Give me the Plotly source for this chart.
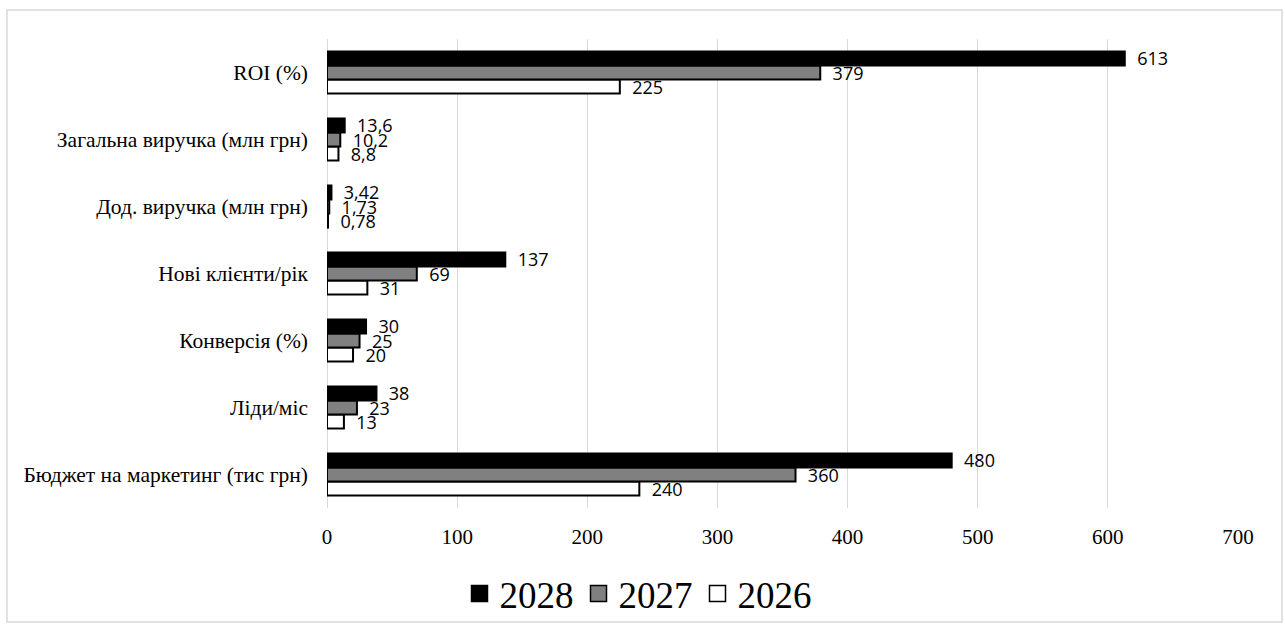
import plotly.graph_objects as go

categories = [
    "Бюджет на маркетинг (тис грн)",
    "Ліди/міс",
    "Конверсія (%)",
    "Нові клієнти/рік",
    "Дод. виручка (млн грн)",
    "Загальна виручка (млн грн)",
    "ROI (%)",
]
years = ["2026", "2027", "2028"]
v2026 = [240, 13, 20, 31, 0.78, 8.8, 225]
v2027 = [360, 23, 25, 69, 1.73, 10.2, 379]
v2028 = [480, 38, 30, 137, 3.42, 13.6, 613]
x_ticks = [0, 100, 200, 300, 400, 500, 600, 700]

series = {"2026": v2026, "2027": v2027, "2028": v2028}
fills = {"2026": "#ffffff", "2027": "#808080", "2028": "#000000"}

SERIF = "Liberation Serif, Times New Roman, serif"
SANS = "Open Sans, Liberation Sans, sans-serif"

def fmt(v):
    return "\u00a0\u00a0" + str(v).replace(".", ",")

fig = go.Figure()
for yr in years:
    vals = series[yr]
    fig.add_trace(go.Bar(
        y=categories, x=vals, orientation="h", name=yr,
        marker=dict(color=fills[yr], line=dict(color="#000000", width=2)),
        text=[fmt(v) for v in vals], textposition="outside",
        textfont=dict(family=SANS, size=18, color="#000000"),
        constraintext="none", cliponaxis=False, textangle=0,
        showlegend=False,
    ))

# legend entries (larger square symbols)
for yr in reversed(years):
    fig.add_trace(go.Scatter(
        x=[None], y=[None], mode="markers", name=yr,
        marker=dict(symbol="square", size=16, color=fills[yr],
                    line=dict(color="#000000", width=1.5)),
        showlegend=True,
    ))

W, H = 1285, 632
L, R, T, B = 327, 47, 39, 124
pw, ph = W - L - R, H - T - B

def px_x(p):
    return (p - L) / pw

def px_y(p):
    return (H - B - p) / ph

fig.update_layout(
    width=W, height=H,
    margin=dict(l=L, r=R, t=T, b=B, pad=0, autoexpand=False),
    paper_bgcolor="#ffffff", plot_bgcolor="#ffffff",
    barmode="group", bargap=0.37, bargroupgap=0,
    xaxis=dict(
        range=[0, 700], tickvals=x_ticks, showgrid=True, gridcolor="#d9d9d9",
        gridwidth=1, zeroline=True, zerolinecolor="#d9d9d9", zerolinewidth=1,
        showline=False, ticks="", ticklabelstandoff=14, automargin=False,
        tickfont=dict(family=SERIF, size=21, color="#000000"),
        fixedrange=True,
    ),
    yaxis=dict(
        type="category", categoryorder="array", categoryarray=categories,
        showgrid=False, zeroline=False, showline=False, ticks="",
        ticklabelstandoff=18, automargin=False,
        tickfont=dict(family=SERIF, size=21.5, color="#000000"),
        fixedrange=True,
    ),
    legend=dict(
        orientation="h", x=px_x(638), xanchor="center", y=px_y(594), yanchor="middle",
        font=dict(family=SERIF, size=37, color="#000000"),
        bgcolor="rgba(0,0,0,0)", itemsizing="trace",
    ),
    shapes=[dict(
        type="rect", xref="paper", yref="paper",
        x0=px_x(7), x1=px_x(1282), y0=px_y(622), y1=px_y(10),
        line=dict(color="#d9d9d9", width=1.5), fillcolor="rgba(0,0,0,0)",
        layer="below",
    )],
)

fig.write_html("out.html")
